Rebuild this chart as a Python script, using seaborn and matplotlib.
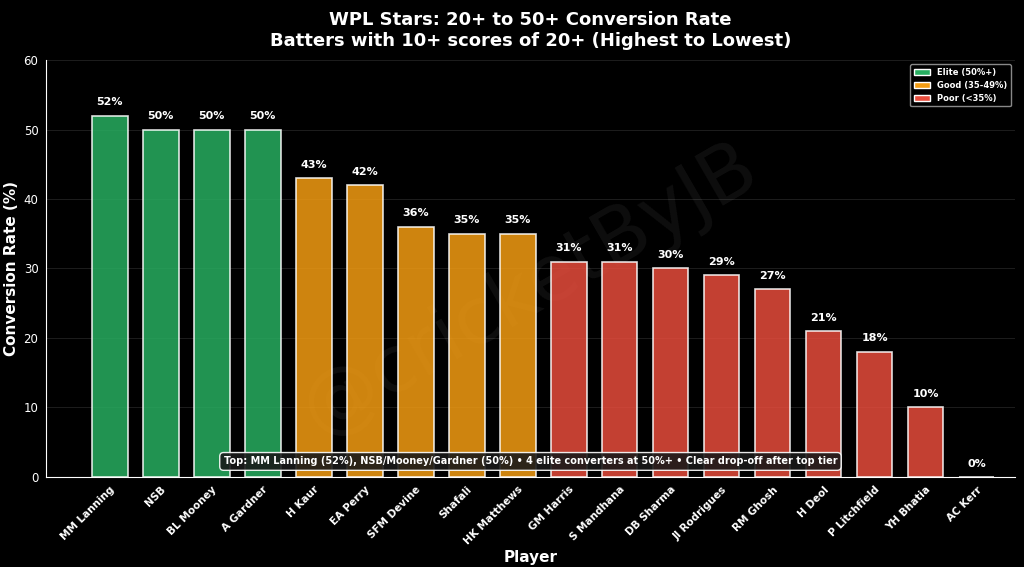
import matplotlib
matplotlib.use("Agg")
import matplotlib.pyplot as plt
import seaborn as sns
import pandas as pd
from matplotlib.patches import Patch

players = ['MM Lanning', 'NSB', 'BL Mooney', 'A Gardner', 'H Kaur', 'EA Perry',
           'SFM Devine', 'Shafali', 'HK Matthews', 'GM Harris', 'S Mandhana',
           'DB Sharma', 'JI Rodrigues', 'RM Ghosh', 'H Deol', 'P Litchfield',
           'YH Bhatia', 'AC Kerr']
rates = [52, 50, 50, 50, 43, 42, 36, 35, 35, 31, 31, 30, 29, 27, 21, 18, 10, 0]

def tier_color(r):
    if r >= 50:
        return '#27ae60'
    if r >= 35:
        return '#f39c12'
    return '#e74c3c'

df = pd.DataFrame({'player': players, 'rate': rates})
colors = [tier_color(r) for r in rates]

sns.set_style('dark')
plt.rcParams['font.family'] = ['DejaVu Sans']
fig, ax = plt.subplots(figsize=(10.24, 5.67), dpi=100)
fig.patch.set_facecolor('black')
ax.set_facecolor('black')

sns.barplot(data=df, x='player', y='rate', hue='player', palette=colors,
            legend=False, ax=ax, width=0.7, alpha=0.85, saturation=1,
            edgecolor='white', linewidth=1.2, zorder=3)

for i, r in enumerate(rates):
    ax.text(i, r + 1.2, f'{r}%', ha='center', va='bottom', color='white',
            fontsize=8, fontweight='bold')

ax.set_ylim(0, 60)
ax.set_xlim(-1.25, len(players) - 0.25)
ax.grid(axis='y', color='#444444', alpha=0.5, linewidth=0.6, zorder=0)
ax.grid(axis='x', visible=False)
ax.tick_params(colors='white', labelsize=8.5, pad=2)
plt.setp(ax.get_xticklabels(), rotation=45, ha='right', fontweight='bold',
         fontsize=7.5, rotation_mode='anchor')
for s in ['top', 'right']:
    ax.spines[s].set_visible(False)
for s in ['left', 'bottom']:
    ax.spines[s].set_color('white')
ax.set_xlabel('Player', color='white', fontsize=11, fontweight='bold', labelpad=2)
ax.set_ylabel('Conversion Rate (%)', color='white', fontsize=11, fontweight='bold', labelpad=3)
ax.set_title('WPL Stars: 20+ to 50+ Conversion Rate\nBatters with 10+ scores of 20+ (Highest to Lowest)',
             color='white', fontsize=13, fontweight='bold', pad=10)

handles = [Patch(facecolor='#27ae60', edgecolor='white', label='Elite (50%+)'),
           Patch(facecolor='#f39c12', edgecolor='white', label='Good (35-49%)'),
           Patch(facecolor='#e74c3c', edgecolor='white', label='Poor (<35%)')]
leg = ax.legend(handles=handles, loc='upper right', fontsize=6, facecolor='black',
                edgecolor='#888888', framealpha=1)
for t in leg.get_texts():
    t.set_color('white')
    t.set_fontweight('bold')

ax.text(0.5, 0.45, '@cricketByJB', transform=ax.transAxes, fontsize=56,
        color='white', alpha=0.06, rotation=30, ha='center', va='center', zorder=1)

ax.text(0.5, 0.025, 'Top: MM Lanning (52%), NSB/Mooney/Gardner (50%) • 4 elite converters at 50%+ • Clear drop-off after top tier',
        transform=ax.transAxes, ha='center', va='bottom', color='white', fontsize=7,
        fontweight='bold', zorder=5,
        bbox=dict(boxstyle='round,pad=0.4', facecolor='#1a1a1a', edgecolor='white', alpha=0.9))

fig.subplots_adjust(left=0.045, right=0.991, top=0.894, bottom=0.159)
plt.savefig('out.png', dpi=100, facecolor='black')
